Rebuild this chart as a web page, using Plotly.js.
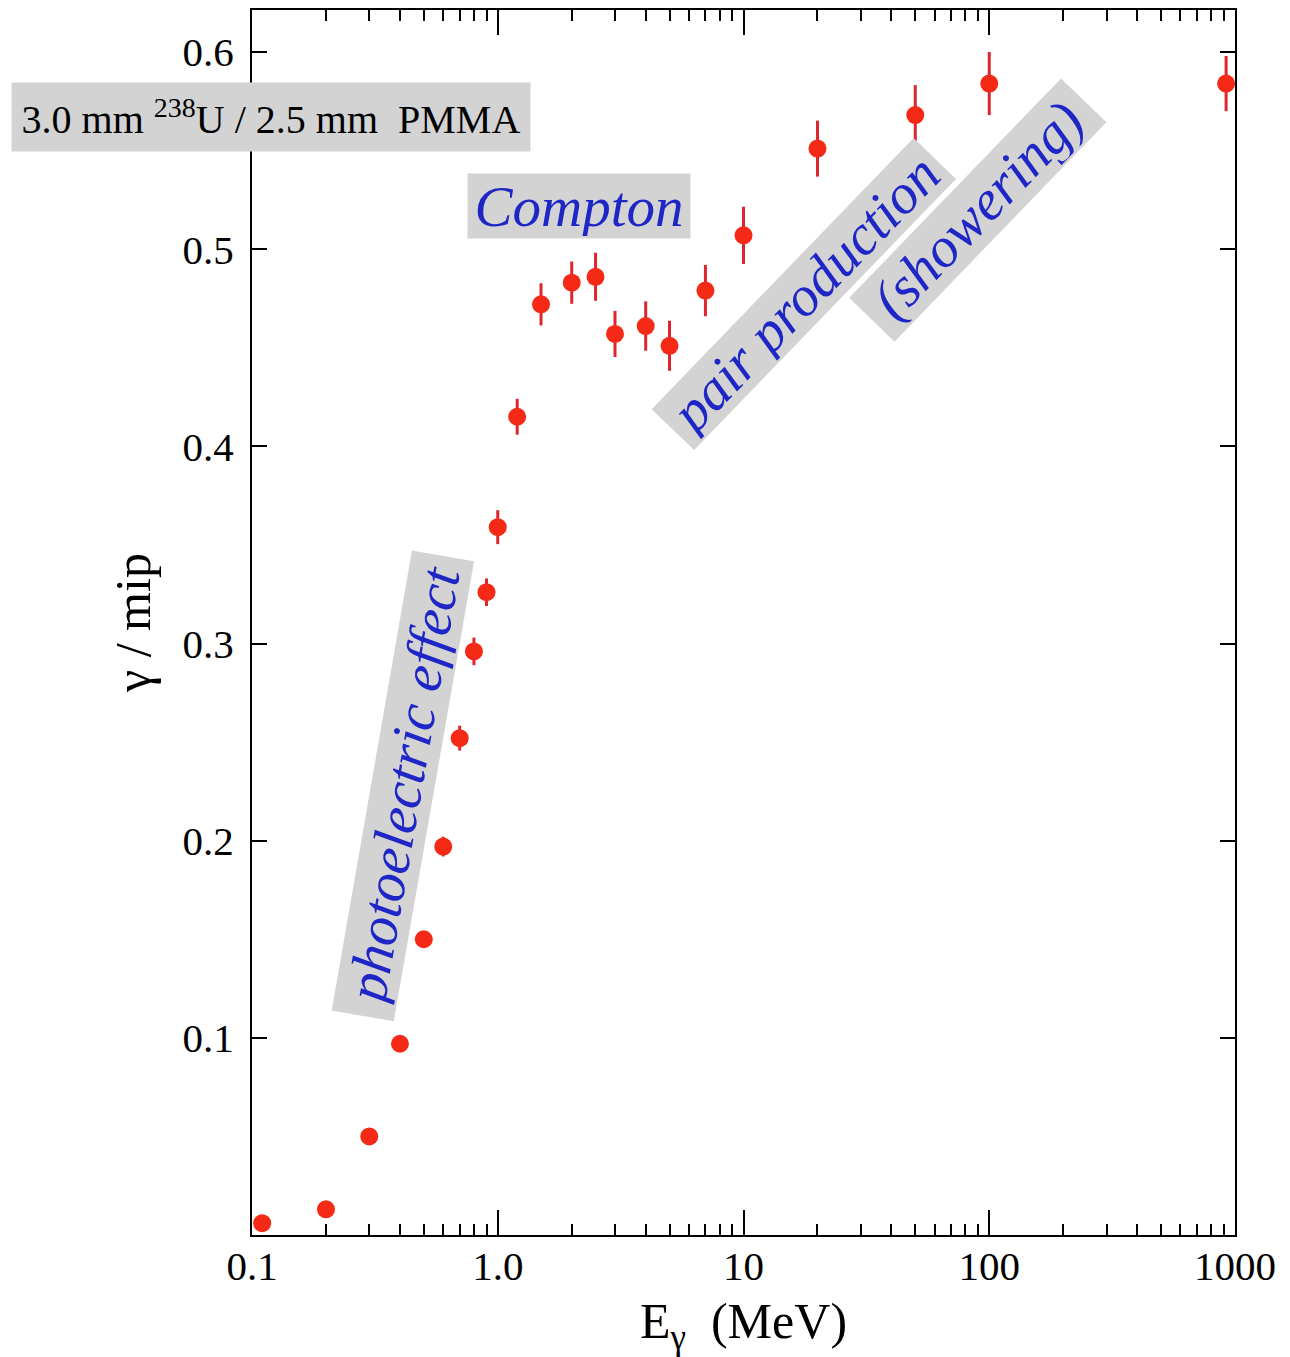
<!DOCTYPE html>
<html>
<head>
<meta charset="utf-8">
<script src="https://cdn.plot.ly/plotly-3.0.1.min.js"></script>
<style>html,body{margin:0;padding:0;background:#fff;}</style>
</head>
<body>
<div id="chart" style="width:1290px;height:1357px;"></div>
<script>
// Photon energy (MeV)
const energy = [0.11, 0.2, 0.3, 0.4, 0.5, 0.6, 0.7, 0.8, 0.9, 1.0, 1.2, 1.5, 2.0, 2.5, 3.0, 4.0, 5.0, 7.0, 10, 20, 50, 100, 920];
// gamma / mip ratio
const gammaPerMip = [0.006, 0.013, 0.050, 0.097, 0.150, 0.197, 0.252, 0.296, 0.326, 0.359, 0.415, 0.472, 0.483, 0.486, 0.457, 0.461, 0.451, 0.479, 0.507, 0.551, 0.568, 0.584, 0.584];
// uncertainties
const gammaErr = [0, 0, 0, 0, 0, 0.005, 0.0063, 0.007, 0.007, 0.0086, 0.0091, 0.0107, 0.0107, 0.0122, 0.0117, 0.0125, 0.0127, 0.013, 0.0145, 0.0142, 0.0152, 0.016, 0.014];

const xTickVals = [0.1, 1, 10, 100, 1000];
const xTickText = ['0.1', '1.0', '10', '100', '1000'];
const xMinorVals = [0.2,0.3,0.4,0.5,0.6,0.7,0.8,0.9, 2,3,4,5,6,7,8,9, 20,30,40,50,60,70,80,90, 200,300,400,500,600,700,800,900];
const yTickVals = [0.1, 0.2, 0.3, 0.4, 0.5, 0.6];
const yTickText = ['0.1', '0.2', '0.3', '0.4', '0.5', '0.6'];

const sampleLabel = '3.0 mm <sup>238</sup>U / 2.5 mm&nbsp;&nbsp;PMMA';
const regionLabels = ['Compton', 'photoelectric effect', 'pair production', '(showering)'];

const serif = 'Liberation Serif, Times New Roman, serif';
const blue = '#1f26c6';
const grey = '#d3d3d3';

const trace = {
  x: energy,
  y: gammaPerMip,
  type: 'scatter',
  mode: 'markers',
  marker: {color: '#f52a16', size: 18},
  error_y: {type: 'data', array: gammaErr, visible: true, color: '#dc2630', thickness: 3, width: 0},
  cliponaxis: false,
  hoverinfo: 'x+y'
};

const annFont = {family: serif, size: 57, color: blue, style: 'italic'};

const layout = {
  width: 1290, height: 1357,
  margin: {l: 252, r: 55, t: 10, b: 122, pad: 0},
  paper_bgcolor: '#ffffff', plot_bgcolor: '#ffffff',
  showlegend: false,
  xaxis: {
    type: 'log', range: [-1, 3],
    showline: true, linecolor: 'black', linewidth: 2, mirror: 'ticks',
    ticks: 'inside', ticklen: 25, tickwidth: 2, tickcolor: 'black',
    tickmode: 'array', tickvals: xTickVals, ticktext: xTickText,
    tickfont: {family: serif, size: 41, color: 'black'},
    ticklabelstandoff: -6,
    showgrid: false, zeroline: false,
    minor: {tickmode: 'array', tickvals: xMinorVals, ticks: 'inside', ticklen: 11, tickwidth: 2, tickcolor: 'black', showgrid: false},
    title: {text: 'E<sub>γ</sub>&nbsp; (MeV)', font: {family: serif, size: 50, color: 'black'}, standoff: 24}
  },
  yaxis: {
    range: [0, 0.6213],
    showline: true, linecolor: 'black', linewidth: 2, mirror: 'ticks',
    ticks: 'inside', ticklen: 15, tickwidth: 2, tickcolor: 'black',
    tickmode: 'array', tickvals: yTickVals, ticktext: yTickText,
    tickfont: {family: serif, size: 41, color: 'black'},
    ticklabelstandoff: 8,
    showgrid: false, zeroline: false,
    title: {text: 'γ / mip', font: {family: serif, size: 50, color: 'black'}, standoff: 16}
  },
  annotations: [
    {xref: 'paper', yref: 'paper', x: 0.0193, y: 0.913, xanchor: 'center', yanchor: 'middle',
     text: sampleLabel, showarrow: false, bgcolor: grey, width: 514, height: 64, borderpad: 2,
     font: {family: serif, size: 40, color: 'black'}},
    {xref: 'paper', yref: 'paper', x: 0.3327, y: 0.8396, xanchor: 'center', yanchor: 'middle',
     text: regionLabels[0], showarrow: false, bgcolor: grey, width: 218, height: 60, borderpad: 2,
     font: annFont},
    {xref: 'paper', yref: 'paper', x: 0.1535, y: 0.3665, xanchor: 'center', yanchor: 'middle',
     text: regionLabels[1], showarrow: false, bgcolor: grey, width: 462, height: 58, borderpad: 2,
     textangle: -80.1, font: annFont},
    {xref: 'paper', yref: 'paper', x: 0.5615, y: 0.7680, xanchor: 'center', yanchor: 'middle',
     text: regionLabels[2], showarrow: false, bgcolor: grey, width: 372, height: 54, borderpad: 2,
     textangle: -46, font: annFont},
    {xref: 'paper', yref: 'paper', x: 0.7385, y: 0.8365, xanchor: 'center', yanchor: 'middle',
     text: regionLabels[3], showarrow: false, bgcolor: grey, width: 300, height: 58, borderpad: 2,
     textangle: -46, font: annFont}
  ]
};

Plotly.newPlot('chart', [trace], layout, {displayModeBar: false, staticPlot: true});
</script>
</body>
</html>
